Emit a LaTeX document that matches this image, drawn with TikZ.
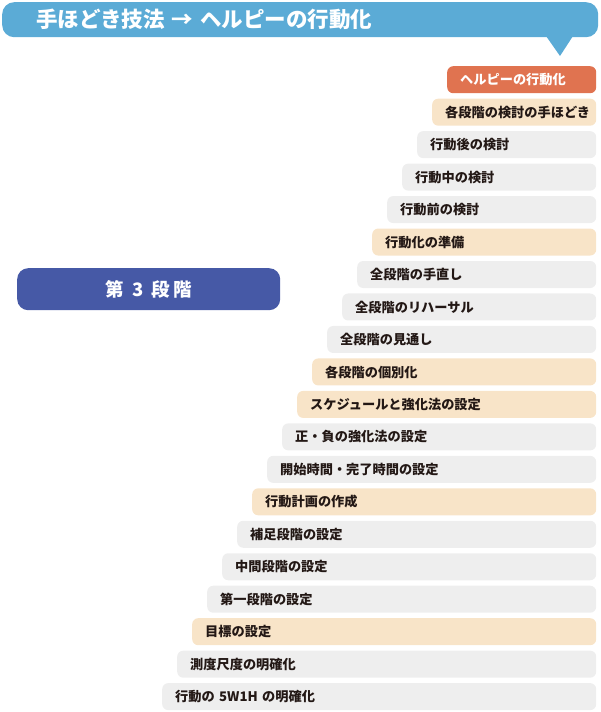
\documentclass[tikz,border=0pt]{standalone}
\usepackage{fontspec}
\setmainfont{Noto Sans CJK JP}
\definecolor{hdrblue}{HTML}{5BABD6}
\definecolor{stageblue}{HTML}{4659A6}
\definecolor{orangec}{HTML}{E07350}
\definecolor{peachc}{HTML}{F8E4C8}
\definecolor{grayc}{HTML}{EEEEEE}
\definecolor{txtc}{HTML}{231815}
\tikzset{
  rowbox/.style={rounded corners=6pt, anchor=north west, minimum height=27pt,
    inner xsep=13pt, inner ysep=0pt, align=left, text=txtc,
    font=\bfseries\fontsize{13.2}{13.2}\selectfont},
  rowor/.style={fill=orangec, text=white},
  rowpk/.style={fill=peachc},
  rowgy/.style={fill=grayc},
  hdrbox/.style={fill=hdrblue, rounded corners=12pt, anchor=north west,
    minimum width=596pt, minimum height=35pt, inner xsep=34pt, inner ysep=0pt,
    text width=528pt, align=left, text=white, font=\bfseries\fontsize{21.5}{21.5}\selectfont},
  stagebox/.style={fill=stageblue, rounded corners=11pt, anchor=north west,
    minimum width=263pt, minimum height=42pt, inner sep=0pt, text=white,
    font=\bfseries\fontsize{18.5}{18.5}\selectfont}
}
\begin{document}
\begin{tikzpicture}[x=1pt,y=-1pt]
\useasboundingbox (0,0) rectangle (600,712);
\node[hdrbox] (hdr) at (2,2) {手ほどき技法 → ヘルピーの行動化};
\fill[hdrblue] (546,36) -- (560,56) -- (573,36) -- cycle;
\node[stagebox] (stage) at (17,268) {第\hspace{8pt}3\hspace{8pt}段\hspace{3pt}階};
\foreach \t/\c [count=\i from 0] in {
  ヘルピーの行動化/rowor,
  各段階の検討の手ほどき/rowpk,
  行動後の検討/rowgy,
  行動中の検討/rowgy,
  行動前の検討/rowgy,
  行動化の準備/rowpk,
  全段階の手直し/rowgy,
  全段階のリハーサル/rowgy,
  全段階の見通し/rowgy,
  各段階の個別化/rowpk,
  スケジュールと強化法の設定/rowpk,
  正・負の強化法の設定/rowgy,
  開始時間・完了時間の設定/rowgy,
  行動計画の作成/rowpk,
  補足段階の設定/rowgy,
  中間段階の設定/rowgy,
  第一段階の設定/rowgy,
  目標の設定/rowpk,
  測度尺度の明確化/rowgy,
  行動の 5W1H の明確化/rowgy}
{
  \pgfmathsetmacro{\lx}{447-15*\i}
  \pgfmathsetmacro{\ty}{66+32.47*\i}
  \pgfmathsetmacro{\tw}{596-\lx-26}
  \node[rowbox, \c, text width=\tw pt] (r\i) at (\lx,\ty) {\t};
}
\end{tikzpicture}
\end{document}
